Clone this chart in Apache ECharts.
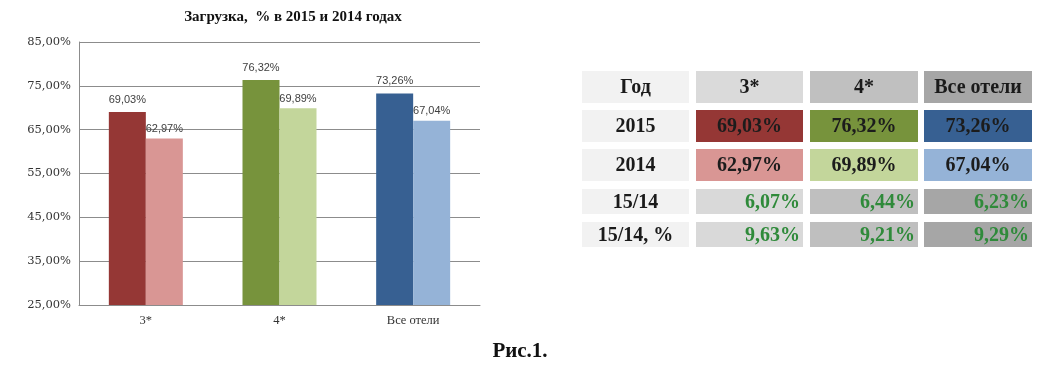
<!DOCTYPE html>
<html>
<head>
<meta charset="utf-8">
<script src="https://cdn.jsdelivr.net/npm/echarts@6/dist/echarts.min.js"></script>
<style>html,body{margin:0;padding:0;background:#fff;}#c{width:1058px;height:371px;}</style>
</head>
<body>
<div id="c"></div>
<script>
// ---- data ----
const categories = ['3*', '4*', 'Все отели'];
const values2015 = [69.03, 76.32, 73.26];
const values2014 = [62.97, 69.89, 67.04];
const colors2015 = ['#953735', '#77933c', '#376092'];
const colors2014 = ['#d99694', '#c3d69b', '#95b3d7'];
const yMin = 25, yMax = 85, yStep = 10;
const chartTitle = 'Загрузка,  % в 2015 и 2014 годах';
const figCaption = 'Рис.1.';

// table
const tableHeader = ['Год', '3*', '4*', 'Все отели'];
const rowLabels = ['2015', '2014', '15/14', '15/14, %'];
const diffAbs = ['6,07%', '6,44%', '6,23%'];
const diffPct = ['9,63%', '9,21%', '9,29%'];
const headerFills = ['#f2f2f2', '#dadada', '#c0c0c0', '#a6a6a6'];
const diffFills = ['#d9d9d9', '#bfbfbf', '#a6a6a6'];

function fmt(v) { return v.toFixed(2).replace('.', ',') + '%'; }

// ---- table layout ----
const colX = [582, 696, 810, 924];
const colW = [107, 107, 108, 108];
const rowY = [71, 110, 149, 189, 222];
const rowH = [32, 32, 32, 25, 25];
const serif = '"Liberation Serif", "DejaVu Serif", serif';
const wideSerif = '"DejaVu Serif", serif';

const tableRows = [
  { label: tableHeader[0], cells: tableHeader.slice(1), fills: headerFills.slice(1), color: '#1a1a1a', align: 'center' },
  { label: rowLabels[0], cells: values2015.map(fmt), fills: colors2015, color: '#1c1c1c', align: 'center' },
  { label: rowLabels[1], cells: values2014.map(fmt), fills: colors2014, color: '#1c1c1c', align: 'center' },
  { label: rowLabels[2], cells: diffAbs, fills: diffFills, color: '#2f8a3a', align: 'right' },
  { label: rowLabels[3], cells: diffPct, fills: diffFills, color: '#2f8a3a', align: 'right' }
];

const graphics = [];
tableRows.forEach((row, r) => {
  const y = rowY[r], h = rowH[r];
  const fs = 20;
  graphics.push({ type: 'rect', shape: { x: colX[0], y: y, width: colW[0], height: h }, style: { fill: headerFills[0] } });
  graphics.push({ type: 'text', x: colX[0] + colW[0] / 2, y: y + h / 2 + 1,
    style: { text: row.label, fill: '#1a1a1a', font: 'bold ' + fs + 'px ' + serif, align: 'center', verticalAlign: 'middle' } });
  row.cells.forEach((txt, c) => {
    const cx = colX[c + 1], cw = colW[c + 1];
    graphics.push({ type: 'rect', shape: { x: cx, y: y, width: cw, height: h }, style: { fill: row.fills[c] } });
    graphics.push({ type: 'text',
      x: row.align === 'center' ? cx + cw / 2 : cx + cw - 3, y: y + h / 2 + 1,
      style: { text: txt, fill: row.color, font: 'bold ' + fs + 'px ' + serif, align: row.align, verticalAlign: 'middle' } });
  });
});
graphics.push({ type: 'text', x: 520, y: 352,
  style: { text: figCaption, fill: '#111', font: 'bold 21px ' + serif, align: 'center', verticalAlign: 'middle' } });

const chart = echarts.init(document.getElementById('c'));
chart.setOption({
  animation: false,
  backgroundColor: '#ffffff',
  title: {
    text: chartTitle, left: 288, top: 5, textAlign: 'center',
    textStyle: { fontFamily: serif, fontWeight: 'bold', fontSize: 15, color: '#111' }
  },
  grid: { left: 79, right: 578, top: 42, bottom: 66, containLabel: false },
  xAxis: {
    type: 'category', data: categories,
    axisLine: { lineStyle: { color: '#8c8c8c' } },
    axisTick: { show: false },
    axisLabel: { fontFamily: serif, fontSize: 12.5, color: '#333', margin: 9 }
  },
  yAxis: {
    type: 'value', min: yMin, max: yMax, interval: yStep,
    axisLine: { show: true, lineStyle: { color: '#8c8c8c' } },
    axisTick: { show: false },
    splitLine: { lineStyle: { color: '#8c8c8c', width: 1 } },
    axisLabel: { fontFamily: wideSerif, fontSize: 11.5, color: '#333', margin: 8,
      formatter: v => v.toFixed(2).replace('.', ',') + '%' }
  },
  series: [
    { name: '2015', type: 'bar', barWidth: 37, barGap: '0%',
      data: values2015.map((v, i) => ({ value: v, itemStyle: { color: colors2015[i] } })),
      label: { show: true, position: 'top', distance: 7, formatter: p => fmt(p.value),
        fontFamily: '"Liberation Sans", Arial, sans-serif', fontSize: 11, color: '#404040' } },
    { name: '2014', type: 'bar', barWidth: 37, barGap: '0%',
      data: values2014.map((v, i) => ({ value: v, itemStyle: { color: colors2014[i] } })),
      label: { show: true, position: 'top', distance: 4, formatter: p => fmt(p.value),
        fontFamily: '"Liberation Sans", Arial, sans-serif', fontSize: 11, color: '#404040' } }
  ],
  graphic: graphics
});
</script>
</body>
</html>
